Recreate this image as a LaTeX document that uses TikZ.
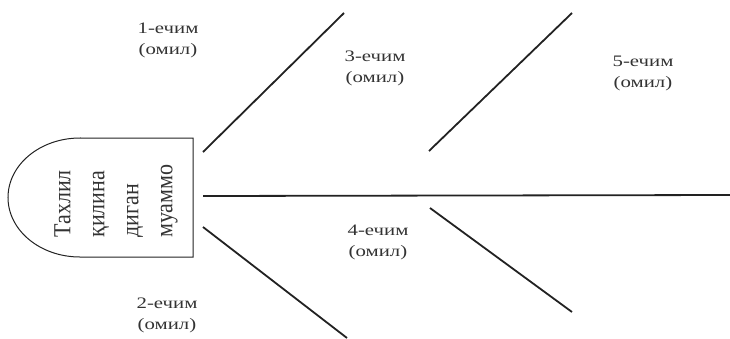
\documentclass[tikz,border=0pt]{standalone}
\usepackage{fontspec}
\setmainfont{Liberation Serif}
\newfontfamily\labfont[FakeStretch=1.3]{Liberation Serif}
\newfontfamily\headfont[FakeStretch=0.9]{Liberation Serif}
\definecolor{ink}{HTML}{222222}
\definecolor{txt}{HTML}{333333}
\tikzset{
  bone/.style={draw=ink, line width=1.8bp},
  lab/.style={text=txt, align=center, inner sep=0pt, font=\labfont\fontsize{16bp}{21bp}\selectfont},
  headtext/.style={text=txt, rotate=90, align=left, inner sep=0pt, font=\headfont\fontsize{24.5bp}{34bp}\selectfont},
}
\begin{document}
\begin{tikzpicture}[x=1bp,y=-1bp]
\useasboundingbox (0,0) rectangle (730,338);
% head shape
\draw[ink, line width=1bp] (80,138) -- (193,138) -- (193,257) -- (80,257)
  arc[start angle=270, end angle=90, x radius=72bp, y radius=59.5bp] -- cycle;
\node[headtext] (head) at (116,201) {Тахлил\\қилина\\диган\\муаммо};
% bone end points
\coordinate (s0) at (203,196);
\coordinate (s1) at (730,195);
\coordinate (a0) at (203,152);
\coordinate (a1) at (344,13);
\coordinate (b0) at (429,151);
\coordinate (b1) at (572,13);
\coordinate (c0) at (203,227);
\coordinate (c1) at (347,338);
\coordinate (d0) at (430,208);
\coordinate (d1) at (572,312);
\draw[bone] (s0) -- (s1);
\draw[bone] (a0) -- (a1);
\draw[bone] (b0) -- (b1);
\draw[bone] (c0) -- (c1);
\draw[bone] (d0) -- (d1);
% labels
\node[lab] (l1) at (168,40) {1-ечим\\(омил)};
\node[lab] (l3) at (375,68) {3-ечим\\(омил)};
\node[lab] (l5) at (643,73) {5-ечим\\(омил)};
\node[lab] (l4) at (378,242) {4-ечим\\(омил)};
\node[lab] (l2) at (167,315) {2-ечим\\(омил)};
\end{tikzpicture}
\end{document}
